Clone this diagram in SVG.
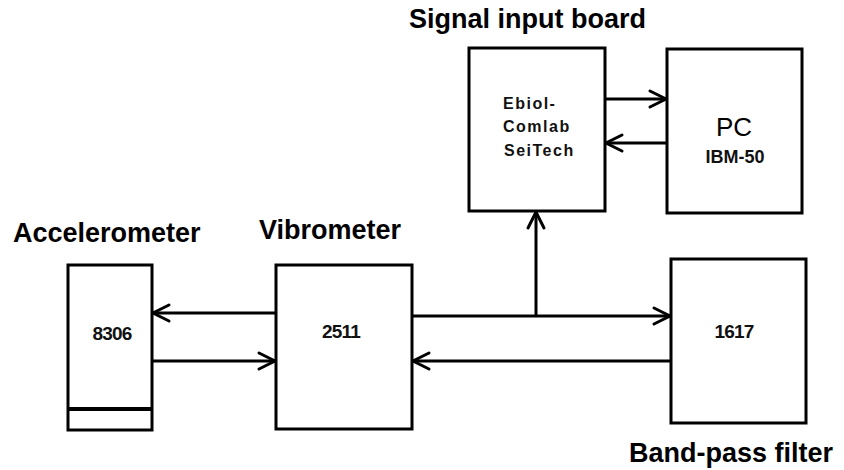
<svg xmlns="http://www.w3.org/2000/svg" width="844" height="470" viewBox="0 0 844 470">
<defs>
<style>
.box{fill:#fff;stroke:#000;stroke-width:3}
.ln{fill:none;stroke:#000;stroke-width:3;marker-end:url(#ah)}
.title{font-family:"Liberation Sans",Arial,sans-serif;font-weight:bold;font-size:27px;fill:#000}
.lab{font-family:"Liberation Sans",Arial,sans-serif;font-weight:bold;font-size:19px;letter-spacing:-0.8px;fill:#111;text-anchor:middle}
.sm{font-family:"Liberation Sans",Arial,sans-serif;font-weight:bold;font-size:16px;letter-spacing:1.5px;fill:#111}
</style>
<marker id="ah" markerUnits="userSpaceOnUse" markerWidth="24" markerHeight="24" viewBox="-20 -12 24 24" refX="0" refY="0" orient="auto">
<path d="M-16,-8 L0,0 L-16,8" fill="none" stroke="#000" stroke-width="3" stroke-linecap="round"/>
</marker>
</defs>
<rect width="844" height="470" fill="#fff"/>

<g id="connectors">
<line class="ln" x1="605" y1="99" x2="666" y2="99"/>
<line class="ln" x1="667" y1="143" x2="606" y2="143"/>
<line class="ln" x1="276" y1="313" x2="153" y2="313"/>
<line class="ln" x1="152" y1="361" x2="275" y2="361"/>
<line class="ln" x1="412" y1="316" x2="670" y2="316"/>
<line class="ln" x1="671" y1="361" x2="413" y2="361"/>
<line class="ln" x1="536" y1="316" x2="536" y2="212"/>
</g>

<g id="signal-board">
<rect class="box" x="469" y="48" width="136" height="163"/>
<text class="sm" x="503" y="109">Ebiol-</text>
<text class="sm" x="503" y="132">Comlab</text>
<text class="sm" x="504" y="156">SeiTech</text>
<text class="title" x="409" y="28">Signal input board</text>
</g>

<g id="pc">
<rect class="box" x="667" y="49" width="135" height="164"/>
<text x="734" y="136" font-family="Liberation Sans,Arial,sans-serif" font-size="26" text-anchor="middle" fill="#000">PC</text>
<text x="735" y="163" font-family="Liberation Sans,Arial,sans-serif" font-size="18" font-weight="bold" text-anchor="middle" fill="#111">IBM-50</text>
</g>

<g id="accelerometer">
<rect class="box" x="68" y="265" width="84" height="165"/>
<line x1="68" y1="409" x2="152" y2="409" stroke="#000" stroke-width="4"/>
<text class="lab" x="112" y="340">8306</text>
<text class="title" x="13" y="242">Accelerometer</text>
</g>

<g id="vibrometer">
<rect class="box" x="276" y="265" width="136" height="164"/>
<text class="lab" x="341" y="338">2511</text>
<text class="title" x="259" y="239">Vibrometer</text>
</g>

<g id="bandpass">
<rect class="box" x="671" y="259" width="135" height="164"/>
<text class="lab" x="734" y="338">1617</text>
<text class="title" x="629" y="462">Band-pass filter</text>
</g>
</svg>
